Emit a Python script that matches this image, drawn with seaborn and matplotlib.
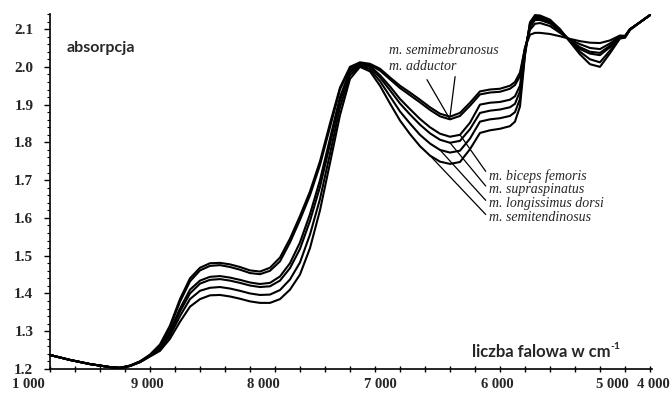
import numpy as np
import pandas as pd
import matplotlib
matplotlib.use('Agg')
import matplotlib.pyplot as plt
from matplotlib.ticker import AutoMinorLocator
import seaborn as sns

# wavenumbers (cm-1)
wavenumber = [10000, 9800, 9600, 9400, 9300, 9200, 9100, 9000,
              8900, 8800, 8700, 8600, 8500, 8400, 8300, 8200, 8100, 8000, 7900, 7800,
              7700, 7600, 7500, 7400, 7300, 7200, 7100, 7000,
              6900, 6800, 6700, 6600, 6500, 6400, 6300, 6200, 6100, 6000, 5900, 5800,
              5700, 5600, 5500, 5400,
              5350, 5300, 5250, 5200, 5150, 5100,
              5000, 4900, 4800, 4700, 4600, 4500, 4400, 4300,
              4250, 4200, 4100, 4000]

semimembranosus = [1.237, 1.224, 1.213, 1.205, 1.203, 1.209, 1.220, 1.238,
                   1.265, 1.315, 1.385, 1.440, 1.468, 1.480, 1.481, 1.477, 1.470, 1.461, 1.458, 1.468,
                   1.495, 1.545, 1.605, 1.670, 1.750, 1.850, 1.945, 2.000,
                   2.012, 2.008, 1.995, 1.972, 1.950, 1.932, 1.913, 1.893, 1.876, 1.868, 1.878, 1.905,
                   1.935, 1.940, 1.942, 1.950,
                   1.960, 1.985, 2.050, 2.085, 2.090, 2.090,
                   2.087, 2.081, 2.074, 2.068, 2.064, 2.063, 2.070, 2.083,
                   2.082, 2.100, 2.118, 2.137]
adductor = [1.237, 1.224, 1.213, 1.205, 1.203, 1.209, 1.220, 1.237,
            1.262, 1.310, 1.378, 1.432, 1.461, 1.473, 1.475, 1.470, 1.463, 1.454, 1.451, 1.460,
            1.485, 1.535, 1.595, 1.660, 1.740, 1.840, 1.940, 1.996,
            2.010, 2.005, 1.990, 1.967, 1.944, 1.925, 1.906, 1.886, 1.869, 1.861, 1.870, 1.897,
            1.927, 1.932, 1.934, 1.942,
            1.952, 1.975, 2.050, 2.098, 2.114, 2.116,
            2.108, 2.090, 2.072, 2.060, 2.050, 2.047, 2.062, 2.081,
            2.081, 2.100, 2.118, 2.137]
biceps = [1.237, 1.224, 1.213, 1.205, 1.203, 1.208, 1.219, 1.236,
          1.258, 1.300, 1.360, 1.410, 1.434, 1.444, 1.446, 1.442, 1.436, 1.429, 1.425, 1.428,
          1.445, 1.480, 1.535, 1.610, 1.700, 1.810, 1.920, 1.990,
          2.008, 2.002, 1.978, 1.948, 1.915, 1.888, 1.862, 1.840, 1.823, 1.815, 1.820, 1.852,
          1.900, 1.905, 1.907, 1.913,
          1.922, 1.950, 2.045, 2.105, 2.124, 2.124,
          2.115, 2.094, 2.070, 2.052, 2.040, 2.037, 2.056, 2.080,
          2.080, 2.099, 2.118, 2.137]
supraspinatus = [1.237, 1.224, 1.213, 1.205, 1.203, 1.208, 1.219, 1.235,
                 1.255, 1.295, 1.352, 1.400, 1.426, 1.436, 1.438, 1.434, 1.428, 1.421, 1.417, 1.419,
                 1.434, 1.467, 1.518, 1.592, 1.682, 1.795, 1.910, 1.985,
                 2.006, 2.000, 1.972, 1.938, 1.903, 1.874, 1.847, 1.824, 1.807, 1.799, 1.804, 1.835,
                 1.878, 1.884, 1.887, 1.893,
                 1.902, 1.935, 2.040, 2.110, 2.128, 2.128,
                 2.118, 2.096, 2.069, 2.047, 2.035, 2.031, 2.052, 2.079,
                 2.079, 2.099, 2.118, 2.137]
longissimus = [1.237, 1.224, 1.213, 1.205, 1.203, 1.208, 1.218, 1.234,
               1.252, 1.288, 1.340, 1.385, 1.407, 1.415, 1.417, 1.413, 1.407, 1.400, 1.396, 1.397,
               1.409, 1.437, 1.482, 1.556, 1.650, 1.770, 1.893, 1.978,
               2.003, 1.994, 1.962, 1.922, 1.882, 1.850, 1.820, 1.797, 1.780, 1.773, 1.778, 1.810,
               1.855, 1.861, 1.864, 1.870,
               1.880, 1.915, 2.035, 2.115, 2.132, 2.132,
               2.122, 2.098, 2.068, 2.040, 2.020, 2.012, 2.043, 2.077,
               2.078, 2.098, 2.118, 2.137]
semitendinosus = [1.237, 1.224, 1.213, 1.205, 1.203, 1.208, 1.218, 1.233,
                  1.248, 1.280, 1.325, 1.365, 1.385, 1.395, 1.396, 1.392, 1.386, 1.379, 1.375, 1.375,
                  1.385, 1.410, 1.450, 1.520, 1.620, 1.745, 1.872, 1.968,
                  2.000, 1.988, 1.950, 1.903, 1.858, 1.822, 1.790, 1.765, 1.749, 1.743, 1.748, 1.782,
                  1.825, 1.832, 1.836, 1.843,
                  1.855, 1.895, 2.030, 2.118, 2.137, 2.136,
                  2.125, 2.100, 2.066, 2.033, 2.007, 2.000, 2.036, 2.075,
                  2.077, 2.098, 2.118, 2.137]

series = {
    'm. semimebranosus': semimembranosus,
    'm. adductor': adductor,
    'm. biceps femoris': biceps,
    'm. supraspinatus': supraspinatus,
    'm. longissimus dorsi': longissimus,
    'm. semitendinosus': semitendinosus,
}

# x labels as they sit in the original (shifted against the ticks)
xlabel_text = ['1 000', '9 000', '8 000', '7 000', '6 000', '5 000', '4 000']
xlabel_pos = [10220, 9030, 7870, 6700, 5530, 4380, 3970]
yticks = [1.2, 1.3, 1.4, 1.5, 1.6, 1.7, 1.8, 1.9, 2.0, 2.1]

rows = []
for name, vals in series.items():
    for w, v in zip(wavenumber, vals):
        rows.append((w, v, name))
df = pd.DataFrame(rows, columns=['wavenumber', 'absorbance', 'muscle'])

sns.set_style('ticks')
plt.rcParams['font.family'] = ['Liberation Serif', 'DejaVu Serif']

fig = plt.figure(figsize=(6.7, 3.98), dpi=100)
ax = fig.add_axes([0.0746, 0.0729, 0.8985, 0.892])

sns.lineplot(data=df, x='wavenumber', y='absorbance', hue='muscle',
             palette=['black'] * len(series), estimator=None, sort=False,
             legend=False, lw=1.5, ax=ax)
for ln in ax.lines:
    ln.set_clip_on(False)

ax.set_xlim(10000, 3980)
ax.set_ylim(1.2, 2.14)
ax.set_xlabel('')
ax.set_ylabel('')
sns.despine(ax=ax)
for s in ['left', 'bottom']:
    ax.spines[s].set_linewidth(1.2)
    ax.spines[s].set_color('black')

ax.set_xticks(np.arange(4000, 10001, 250))
ax.set_xticklabels([])
ax.tick_params(axis='x', direction='inout', length=5, width=1, color='black')
ax.set_yticks(yticks)
ax.set_yticklabels([f'{t:.1f}' for t in yticks], fontsize=11, fontweight='bold')
ax.yaxis.set_minor_locator(AutoMinorLocator(5))
ax.tick_params(axis='y', which='major', direction='out', length=4, width=1, pad=8, color='black')
ax.tick_params(axis='y', which='minor', direction='out', length=2, width=0.8, color='black')

xt = ax.get_xaxis_transform()
for lab, pos in zip(xlabel_text, xlabel_pos):
    ax.text(pos, -0.045, lab, transform=xt, ha='center', va='center',
            fontsize=10.5, fontweight='bold', clip_on=False)

# axis captions
ax.text(0.027, 0.904, 'absorpcja', transform=ax.transAxes, ha='left', va='center',
        fontsize=11.5, fontweight='bold', family=['Lato', 'DejaVu Sans'])
xl = ax.text(0.701, 0.048, 'liczba falowa w cm', transform=ax.transAxes, ha='left',
             va='center', fontsize=12, fontweight='bold', family=['Lato', 'DejaVu Sans'])
ax.annotate('-1', xy=(1.0, 0.85), xycoords=xl, ha='left', va='center',
            fontsize=7.5, fontweight='bold', family=['Lato', 'DejaVu Sans'])

# muscle labels with leader lines
val = df.set_index(['muscle', 'wavenumber'])['absorbance']
lbl = dict(fontsize=10, style='italic', ha='left', va='center')
line = dict(arrowstyle='-', color='black', lw=0.9, shrinkA=0, shrinkB=0)

ax.text(6610, 2.042, 'm. semimebranosus', **lbl)
ax.annotate('m. adductor', xy=(6000, val[('m. semimebranosus', 6000)]), xytext=(6610, 2.0),
            arrowprops=dict(line, relpos=(1.0, 0.5)), **lbl)
ax.annotate('', xy=(6000, val[('m. adductor', 6000)]), xytext=(6230, 1.966),
            arrowprops=line)

lower = [('m. biceps femoris', 5900, 1.711),
         ('m. supraspinatus', 6000, 1.674),
         ('m. longissimus dorsi', 6100, 1.637),
         ('m. semitendinosus', 6200, 1.600)]
for name, w, ty in lower:
    ax.annotate(name, xy=(w, val[(name, w)]), xytext=(5610, ty),
                arrowprops=dict(line, relpos=(0.0, 0.5)), **lbl)

fig.savefig('out.png', dpi=100, facecolor='white')
